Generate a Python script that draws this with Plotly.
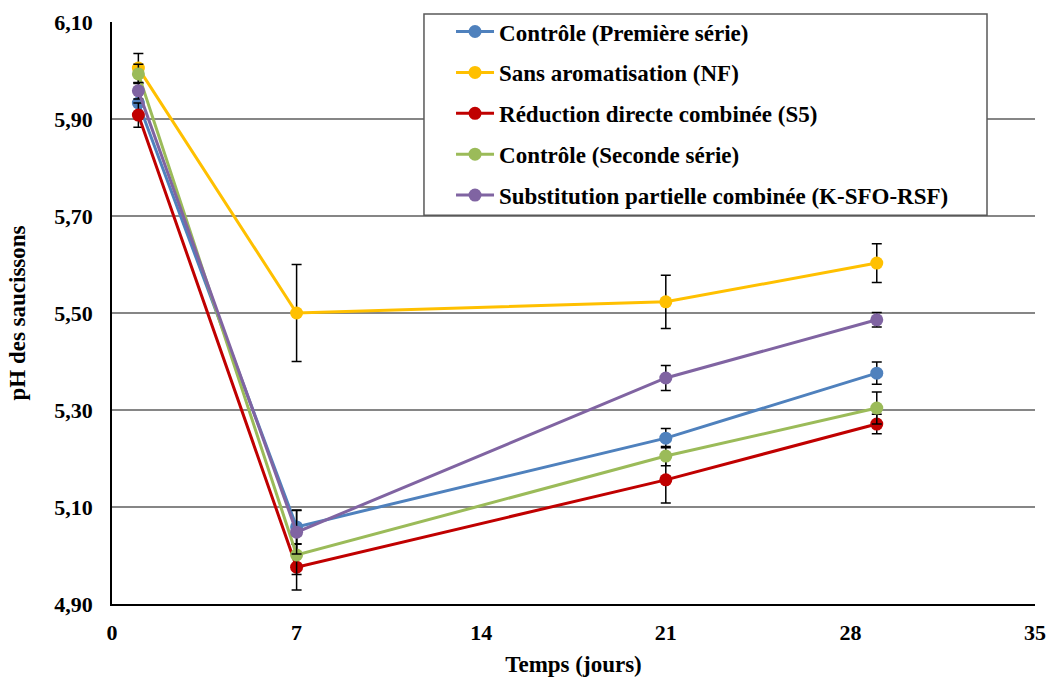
import plotly.graph_objects as go

days = [1, 7, 21, 29]
series_names = [
    "Contrôle (Première série)",
    "Sans aromatisation (NF)",
    "Réduction directe combinée (S5)",
    "Contrôle (Seconde série)",
    "Substitution partielle combinée (K-SFO-RSF)",
]
controle1 = [5.933, 5.059, 5.242, 5.376]
sans_arom = [6.005, 5.500, 5.523, 5.603]
reduction = [5.908, 4.976, 5.156, 5.271]
controle2 = [5.993, 5.001, 5.205, 5.304]
substitution = [5.958, 5.048, 5.366, 5.486]

err_controle1 = [0.02, 0.035, 0.02, 0.023]
err_sans_arom = [0.03, 0.10, 0.055, 0.04]
err_reduction = [0.025, 0.047, 0.048, 0.02]
err_controle2 = [0.02, 0.04, 0.02, 0.033]
err_substitution = [0.017, 0.045, 0.026, 0.015]

colors = ["#4F81BD", "#FFC000", "#C00000", "#9BBB59", "#8064A2"]
values = [controle1, sans_arom, reduction, controle2, substitution]
errors = [err_controle1, err_sans_arom, err_reduction, err_controle2, err_substitution]

y_ticks = [4.90, 5.10, 5.30, 5.50, 5.70, 5.90, 6.10]
x_ticks = [0, 7, 14, 21, 28, 35]

FONT = "Liberation Serif"

fig = go.Figure()
for i, (name, vals, errs, col) in enumerate(zip(series_names, values, errors, colors)):
    fig.add_trace(go.Scatter(
        x=days, y=vals, name=name, mode="lines+markers",
        legendgroup=f"g{i}",
        line=dict(color=col, width=3),
        marker=dict(color=col, size=13),
        error_y=dict(type="data", array=errs, visible=True,
                     color="black", thickness=1.5, width=5),
    ))

# legend frame (white box with grey border) drawn as a paper-referenced shape
fig.add_shape(type="rect", xref="paper", yref="paper",
              x0=0.338, x1=0.948, y0=0.668, y1=1.0137,
              line=dict(color="#595959", width=1.5), fillcolor="white",
              layer="above")

fig.update_layout(
    width=1051, height=680,
    margin=dict(l=112, r=16, t=22, b=76, autoexpand=False),
    paper_bgcolor="white", plot_bgcolor="white",
    separators=", ",
    font=dict(family=FONT, size=22, color="black", weight="bold"),
    showlegend=True,
    legend=dict(
        x=0.3673, y=1.0205, xanchor="left", yanchor="top",
        bgcolor="rgba(0,0,0,0)", borderwidth=0,
        font=dict(family=FONT, size=23, color="black", weight="bold"),
        tracegroupgap=8, itemwidth=38,
    ),
    xaxis=dict(
        range=[0, 35], tickvals=x_ticks, showgrid=False, zeroline=False,
        showline=True, linecolor="black", linewidth=1.5, ticks="",
        ticklabelstandoff=8, automargin=False,
        title=dict(text="Temps (jours)", font=dict(family=FONT, size=23, weight="bold"), standoff=12),
    ),
    yaxis=dict(
        range=[4.90, 6.10], tickvals=y_ticks, tickformat=".2f",
        showgrid=True, gridcolor="#868686", gridwidth=1.5, zeroline=False,
        showline=True, linecolor="black", linewidth=1.5, ticks="",
        ticklabelstandoff=13, automargin=False,
        title=dict(text="pH des saucissons", font=dict(family=FONT, size=23, weight="bold"), standoff=22),
    ),
)

fig.write_html(
    "out.html",
    config={"displayModeBar": False},
    post_script="document.body.style.margin='0';document.body.style.overflow='hidden';",
)
